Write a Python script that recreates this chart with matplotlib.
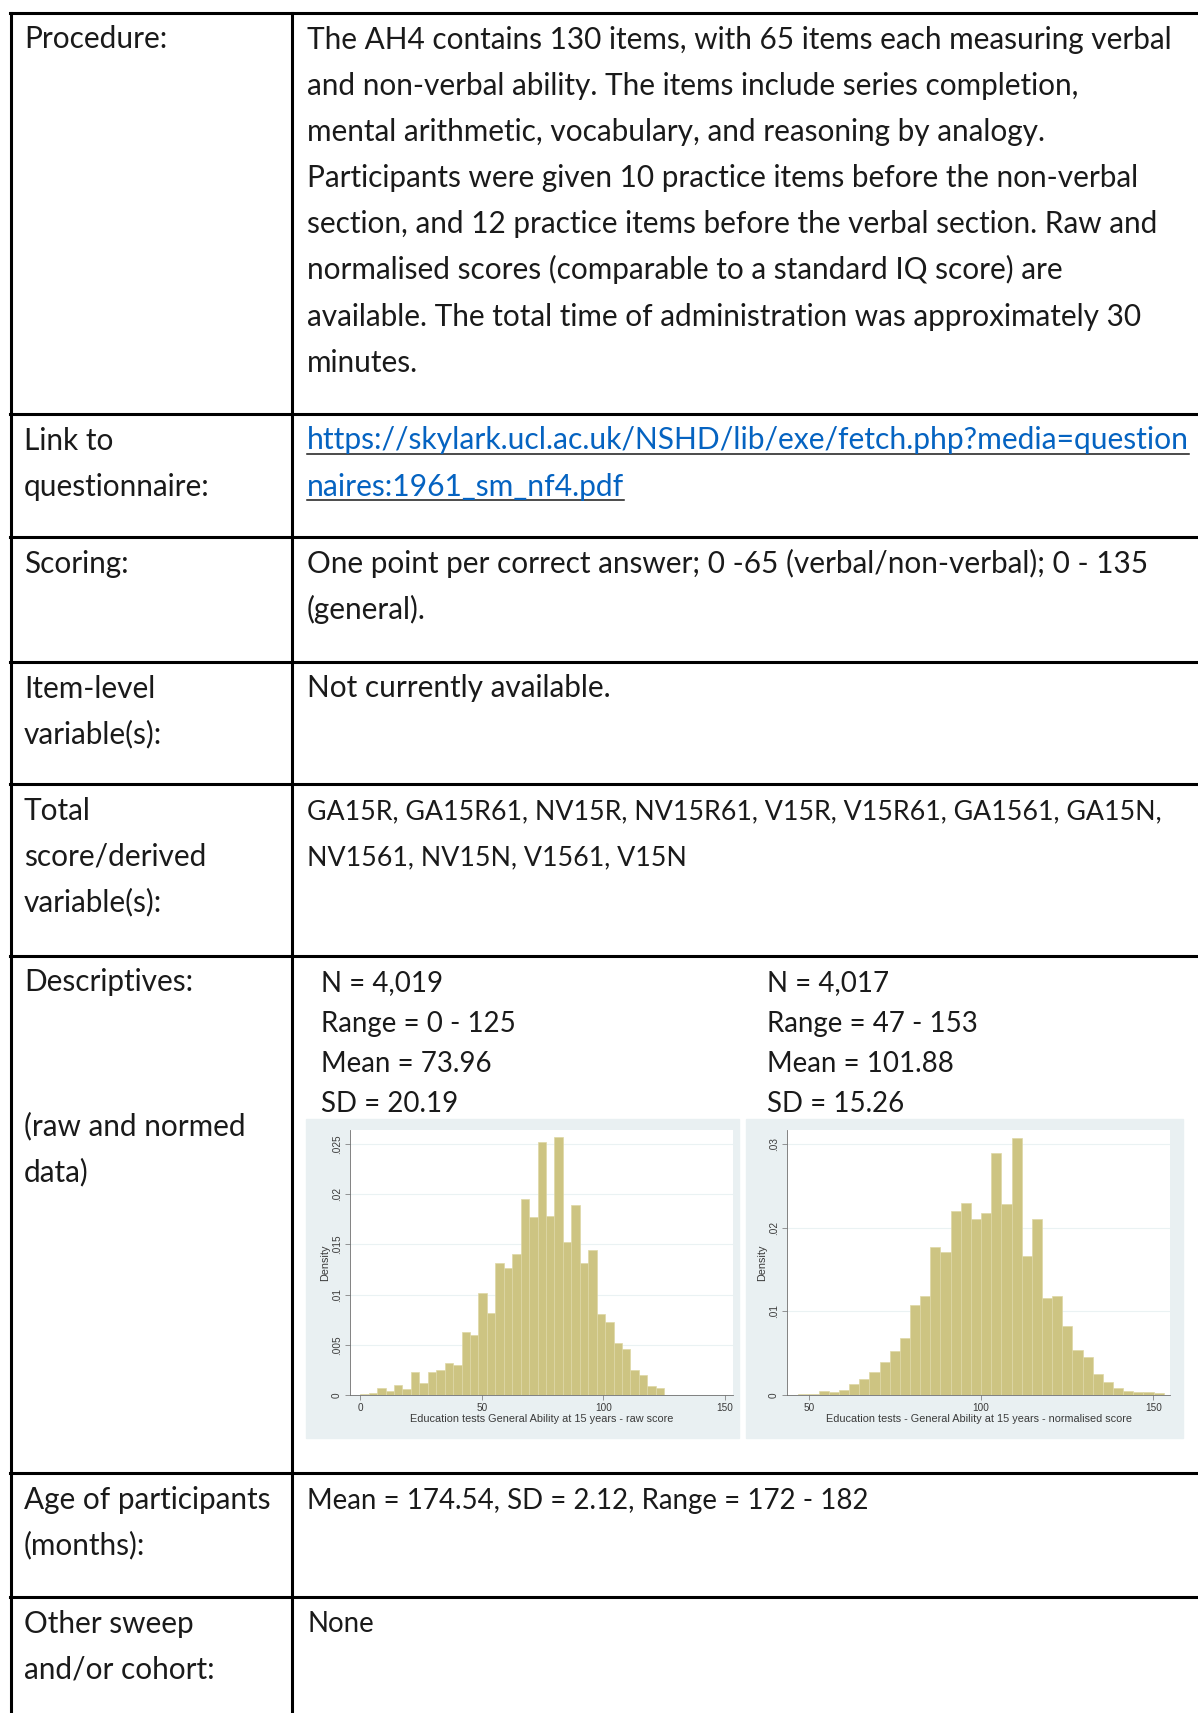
import numpy as np
import matplotlib.pyplot as plt
from matplotlib.lines import Line2D
from matplotlib.patches import Rectangle

# Histogram data (Stata default: 36 bins over the observed range)
N_BINS = 36
raw_range = (0, 125)
raw_density = [0.00013, 0.0002, 0.00066, 0.0004, 0.0010, 0.00056,
               0.0023, 0.0012, 0.0023, 0.0025, 0.0032, 0.0030,
               0.0063, 0.0060, 0.0102, 0.0082, 0.0132, 0.0127,
               0.0140, 0.0195, 0.0177, 0.0252, 0.0178, 0.0257,
               0.0152, 0.0189, 0.0132, 0.0144, 0.0081, 0.0073,
               0.0052, 0.0046, 0.0025, 0.0020, 0.0009, 0.00066]
norm_range = (47, 153)
norm_density = [0.0001, 0.0001, 0.0005, 0.0004, 0.0006, 0.0013,
                0.0019, 0.0028, 0.0040, 0.0053, 0.0068, 0.0108,
                0.0118, 0.0177, 0.0171, 0.0220, 0.0230, 0.0211,
                0.0218, 0.0289, 0.0229, 0.0308, 0.0166, 0.0211,
                0.0116, 0.0119, 0.0083, 0.0054, 0.0045, 0.0025,
                0.0015, 0.0008, 0.0005, 0.0003, 0.0003, 0.0002]
raw_xticks = [0, 50, 100, 150]
raw_yticks = [0, 0.005, 0.01, 0.015, 0.02, 0.025]
raw_ylabels = ["0", ".005", ".01", ".015", ".02", ".025"]
norm_xticks = [50, 100, 150]
norm_yticks = [0, 0.01, 0.02, 0.03]
norm_ylabels = ["0", ".01", ".02", ".03"]
raw_xlabel = "Education tests General Ability at 15 years - raw score"
norm_xlabel = "Education tests - General Ability at 15 years - normalised score"

# Table text
row_labels = [
    ["Procedure:"],
    ["Link to", "questionnaire:"],
    ["Scoring:"],
    ["Item-level", "variable(s):"],
    ["Total", "score/derived", "variable(s):"],
    ["Descriptives:"],
    ["Age of participants", "(months):"],
    ["Other sweep", "and/or cohort:"],
]
row_content = [
    ["The AH4 contains 130 items, with 65 items each measuring verbal",
     "and non-verbal ability. The items include series completion,",
     "mental arithmetic, vocabulary, and reasoning by analogy.",
     "Participants were given 10 practice items before the non-verbal",
     "section, and 12 practice items before the verbal section. Raw and",
     "normalised scores (comparable to a standard IQ score) are",
     "available. The total time of administration was approximately 30",
     "minutes."],
    [],
    ["One point per correct answer; 0 -65 (verbal/non-verbal); 0 - 135",
     "(general)."],
    ["Not currently available."],
    ["GA15R, GA15R61, NV15R, NV15R61, V15R, V15R61, GA1561, GA15N,",
     "NV1561, NV15N, V1561, V15N"],
    [],
    ["Mean = 174.54, SD = 2.12, Range = 172 - 182"],
    ["None"],
]
link_lines = ["https://skylark.ucl.ac.uk/NSHD/lib/exe/fetch.php?media=question",
              "naires:1961_sm_nf4.pdf"]
desc_note = ["(raw and normed", "data)"]
desc_raw = ["N = 4,019", "Range = 0 - 125", "Mean = 73.96", "SD = 20.19"]
desc_norm = ["N = 4,017", "Range = 47 - 153", "Mean = 101.88", "SD = 15.26"]

W, H = 1198, 1713
row_tops = [13, 414, 537, 662, 784, 956, 1473, 1597]
COL_X = 291.6
LEFT_X = 11
LINE_GAP = 46.2
TXT_COLOR = "#1a1a1a"
FONT = ["Lato", "DejaVu Sans"]
FS = 21.4         # body text
FS_NARROW = 19.9  # the squeezed-looking lines (stats)
FS_VARS = 19.3    # variable name list (digits run wide in Lato)
row_fs = {4: FS_VARS, 6: FS_NARROW, 7: FS_NARROW}

fig = plt.figure(figsize=(W / 100, H / 100), dpi=100)
base = fig.add_axes([0, 0, 1, 1])
base.set_xlim(0, W)
base.set_ylim(H, 0)
base.axis("off")

# grid lines of the table
lw = 2.2
for y in row_tops:
    base.add_line(Line2D([LEFT_X - 1.5, W], [y, y], color="black", lw=lw))
for x in (LEFT_X, COL_X):
    base.add_line(Line2D([x, x], [row_tops[0], H], color="black", lw=lw))


def put(x, y_center, s, **kw):
    kw.setdefault("color", TXT_COLOR)
    kw.setdefault("fontsize", FS)
    return base.text(x, y_center + 11.5, s, va="baseline", ha="left",
                     family=FONT, **kw)


for r, (top, labels, content) in enumerate(zip(row_tops, row_labels, row_content)):
    y0 = top + 24
    for i, s in enumerate(labels):
        put(24, y0 + i * LINE_GAP, s)
    fs = row_fs.get(r, FS)
    for i, s in enumerate(content):
        put(307, y0 + i * LINE_GAP, s, fontsize=fs)

# link with underline
link_texts = []
for i, s in enumerate(link_lines):
    link_texts.append(put(307, row_tops[1] + 24 + i * LINE_GAP, s,
                          color="#0563c1", fontsize=21.6))

# descriptives block
desc_top = row_tops[5] + 24
for i, s in enumerate(desc_note):
    put(24, desc_top + 144 + i * LINE_GAP, s)
for i, s in enumerate(desc_raw):
    put(321, desc_top + i * 40.1, s, fontsize=FS_NARROW)
for i, s in enumerate(desc_norm):
    put(767, desc_top + i * 40.1, s, fontsize=FS_NARROW)

fig.canvas.draw()
renderer = fig.canvas.get_renderer()
inv = base.transData.inverted()
for t in link_texts:
    bb = t.get_window_extent(renderer)
    (x0, _), (x1, _) = inv.transform([(bb.x0, 0), (bb.x1, 0)])
    _, ty = t.get_position()
    base.add_line(Line2D([x0, min(x1, W)], [ty + 4, ty + 4], color="#1a1a1a", lw=1.1))

# histogram panels (Stata s2color look)
PANEL_BG = "#e9f0f2"
BAR_FC = "#cdc482"
BAR_EC = "#ded7a6"
AX_COL = "#6e6e6e"
LBL_COL = "#3a3a3a"
SMALL = ["Liberation Sans", "DejaVu Sans"]

base.add_patch(Rectangle((306, 1119), 433, 319, color=PANEL_BG, zorder=0))
base.add_patch(Rectangle((746, 1119), 437, 319, color=PANEL_BG, zorder=0))


def px_axes(x0, y0, x1, y1):
    return fig.add_axes([x0 / W, 1 - y1 / H, (x1 - x0) / W, (y1 - y0) / H])


def histo(ax, rng, dens, xlim, ylim, xticks, yticks, ylabels, xlabel):
    edges = np.linspace(rng[0], rng[1], N_BINS + 1)
    ax.bar(edges[:-1], dens, width=np.diff(edges), align="edge",
           color=BAR_FC, edgecolor=BAR_EC, linewidth=0.5, zorder=2)
    ax.set_xlim(*xlim)
    ax.set_ylim(*ylim)
    ax.set_facecolor("white")
    for side in ("top", "right"):
        ax.spines[side].set_visible(False)
    for side in ("left", "bottom"):
        ax.spines[side].set_color(AX_COL)
        ax.spines[side].set_linewidth(0.6)
    ax.set_xticks(xticks)
    ax.set_xticklabels([str(v) for v in xticks], family=SMALL, fontsize=7.2,
                       color=LBL_COL)
    ax.set_yticks(yticks)
    ax.set_yticklabels(ylabels, family=SMALL, fontsize=7.2, color=LBL_COL,
                       rotation=90, va="center")
    ax.tick_params(length=3.5, width=0.5, color=AX_COL, pad=2.5)
    ax.yaxis.grid(True, color="#eaf2f3", lw=0.8, zorder=0)
    ax.set_axisbelow(True)
    ax.set_xlabel(xlabel, family=SMALL, fontsize=7.8, color=LBL_COL, labelpad=0.5)
    ax.set_ylabel("Density", family=SMALL, fontsize=7.8, color=LBL_COL, labelpad=1)


ax1 = px_axes(350, 1130, 733, 1395)
histo(ax1, raw_range, raw_density, (-4.2, 153.3), (0, 0.0264),
      raw_xticks, raw_yticks, raw_ylabels, raw_xlabel)

ax2 = px_axes(787, 1130, 1170, 1395)
histo(ax2, norm_range, norm_density, (43.7, 154.8), (0, 0.0317),
      norm_xticks, norm_yticks, norm_ylabels, norm_xlabel)

fig.savefig("out.png", dpi=100, facecolor="white")
